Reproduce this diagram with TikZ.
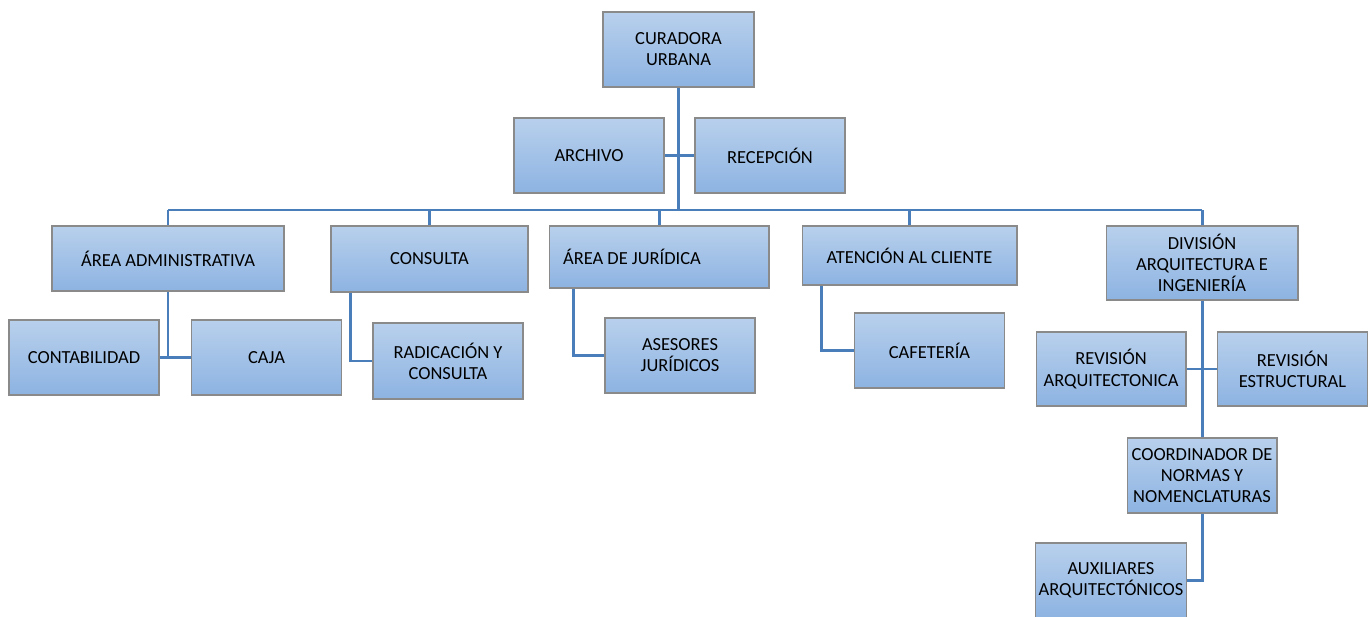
\documentclass[tikz,border=0pt]{standalone}
\usepackage{fontspec}
\setmainfont{Carlito}
\usepackage{xcolor}
\usepackage{tikz}
\usetikzlibrary{positioning}

\definecolor{boxtop}{HTML}{B8D0EC}
\definecolor{boxbot}{HTML}{8DB3E2}
\definecolor{boxline}{HTML}{8A8A8A}
\definecolor{linkblue}{HTML}{4A7EBB}

\tikzset{
  unit/.style={draw=boxline, line width=0.6pt, top color=boxtop, bottom color=boxbot,
    minimum width=3cm, minimum height=1.5cm, align=center, inner sep=2pt,
    font=\fontsize{10.5}{12}\selectfont},
  link/.style={draw=linkblue, line width=1.7pt}
}

\begin{document}
\begin{tikzpicture}[x=0.02cm,y=-0.02cm]
\useasboundingbox (0,0) rectangle (1372,617);
% top of the chart
\node[unit, minimum width=3.02cm] (cu) at (678.5,49.5) {CURADORA\\URBANA};
\node[unit] (archivo) at (589,155.5) {ARCHIVO};
\node[unit] (recepcion) at (770,155.5) {RECEPCIÓN};
\coordinate (bus) at (0,210);

% areas
\node[unit, minimum width=4.64cm, minimum height=1.3cm] (aa) at (168,258.5) {ÁREA ADMINISTRATIVA};
\node[unit, minimum width=3.94cm, minimum height=1.32cm] (consulta) at (429.5,259) {CONSULTA};
\node[unit, minimum width=4.4cm, minimum height=1.24cm] (aj) at (659,257) {ÁREA DE JURÍDICA\hspace*{1.08cm}};
\node[unit, minimum width=4.3cm, minimum height=1.18cm] (ac) at (909.5,255.5) {ATENCIÓN AL CLIENTE};
\node[unit, minimum width=3.84cm, minimum height=1.48cm] (div) at (1202,263) {DIVISIÓN\\ARQUITECTURA E\\INGENIERÍA};

% dependencias
\node[unit] (conta) at (84,357.5) {CONTABILIDAD};
\node[unit] (caja) at (266.5,357.5) {CAJA};
\node[unit, minimum height=1.52cm] (rad) at (448,361) {RADICACIÓN Y\\CONSULTA};
\node[unit] (ases) at (680,355.5) {ASESORES\\JURÍDICOS};
\node[unit] (cafe) at (929.5,350.5) {CAFETERÍA};
\node[unit, minimum height=1.48cm] (ra) at (1111,369) {REVISIÓN\\ARQUITECTONICA};
\node[unit, minimum height=1.48cm] (re) at (1292.5,369) {REVISIÓN\\ESTRUCTURAL};
\node[unit] (coord) at (1202,475.5) {COORDINADOR DE\\NORMAS Y\\NOMENCLATURAS};
\node[unit] (aux) at (1111,580.5) {AUXILIARES\\ARQUITECTÓNICOS};

% connectors
\draw[link] (cu.south) -- (cu.south |- bus);
\draw[link] (archivo.east) -- (recepcion.west);
\draw[link] (aa.north |- bus) -- (div.north |- bus);
\foreach \n in {aa,consulta,aj,ac,div}
  \draw[link] (\n.north) -- (\n.north |- bus);
\draw[link] (aa.south) -- (aa.south |- caja.west);
\draw[link] (conta.east) -- (caja.west);
\draw[link] ([xshift=0.4cm]consulta.south west) |- (rad.west);
\draw[link] ([xshift=0.5cm]aj.south west) |- (ases.west);
\draw[link] ([xshift=0.4cm]ac.south west) |- (cafe.west);
\draw[link] (div.south) -- (coord.north);
\draw[link] (ra.east) -- (re.west);
\draw[link] (coord.south) |- (aux.east);
\end{tikzpicture}
\end{document}
